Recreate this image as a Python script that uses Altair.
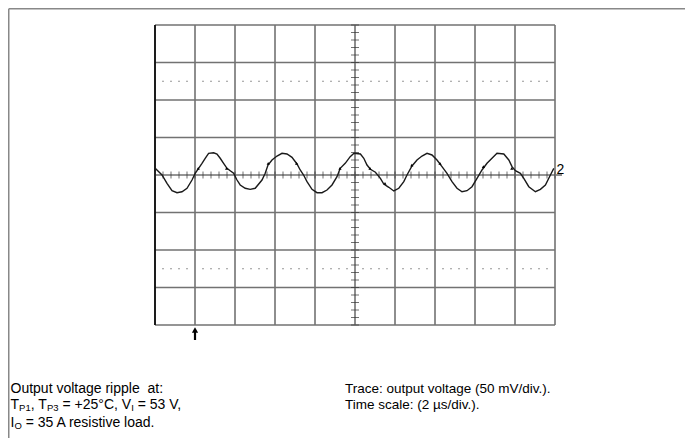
import altair as alt
import pandas as pd

# ---- data (time in µs, voltage in mV) ----
trace_t = [-9.99, -9.65, -9.4, -9.15, -8.9, -8.65, -8.4, -8.15, -7.99, -7.82,
           -7.65, -7.49, -7.32, -7.07, -6.9, -6.74, -6.57, -6.4, -6.24, -6.07,
           -5.9, -5.74, -5.49, -5.24, -4.99, -4.65, -4.49, -4.35, -4.15, -3.9,
           -3.65, -3.4, -3.15, -2.9, -2.74, -2.57, -2.4, -2.15, -1.9, -1.65,
           -1.4, -1.15, -0.9, -0.74, -0.49, -0.24, -0.05, 0.27, 0.44, 0.6,
           0.77, 1.02, 1.27, 1.44, 1.69, 1.94, 2.19, 2.44, 2.6, 2.85,
           3.1, 3.35, 3.6, 3.85, 4.1, 4.35, 4.6, 4.85, 5.1, 5.35,
           5.6, 5.85, 6.1, 6.35, 6.6, 6.85, 7.1, 7.44, 7.69, 7.85,
           8.02, 8.27, 8.44, 8.69, 9.02, 9.27, 9.52, 9.77, 9.94]
trace_v = [8.9, 0, -11.1, -20.9, -23.6, -22.3, -17.7, -6.7, 2.3, 8.9,
           15.6, 22.3, 28.9, 29.7, 28, 22.3, 15.6, 8.9, 5.7, 2.3,
           -6.7, -13.3, -17.7, -19.1, -17.7, -6.7, 2.3, 13.3, 20, 25.3,
           28.9, 28, 23.6, 14.7, 6.7, 0, -8.9, -19.1, -23.6, -23.6,
           -20, -13.3, -2.3, 8.9, 15.6, 24.4, 28.9, 28, 22.3, 13.3,
           7.6, 3.7, -4.4, -12, -16.4, -21.3, -17.7, -8.9, 0, 12,
           20, 25.3, 28.9, 26.7, 20, 11.1, 2.3, -8.9, -17.7, -22.3,
           -20.9, -15.6, -4.4, 6.7, 15.6, 22.3, 28.9, 28, 20, 11.1,
           5.7, 2.3, -4.4, -15.6, -22.3, -19.1, -13.3, 0, 8.9]

# small sample markers visible on the trace
marker_t = [-7.84, -6.42, -4.34, -2.92, -0.75, 0.75, 1.5, 2.84, 4.25, 6.42, 7.84]
marker_v = [8.9, 8.9, 15.6, 15.6, 8.9, 8.9, -11.1, 13.3, 15.6, 11.1, 8.9]

# graticule: 10 x 8 divisions, 2 µs/div and 50 mV/div
grid_t = [-10, -8, -6, -4, -2, 0, 2, 4, 6, 8, 10]
grid_v = [-200, -150, -100, -50, 0, 50, 100, 150, 200]
dotted_v = [-125, 125]
trigger_t = [-8]
channel_label = ["2"]

minor_t = [round(-10 + 0.4 * i, 2) for i in range(51)]
minor_v = [round(-200 + 10 * i, 1) for i in range(41)]
dot_t = [t for t in minor_t if abs(t / 2 - round(t / 2)) > 1e-6]

FONT = "Liberation Sans"
GRID = "#727272"
INK = "#1a1a1a"
NBSP = "\u00a0"

xs = alt.Scale(domain=[-10, 10], nice=False, zero=False)
ys = alt.Scale(domain=[-200, 200], nice=False, zero=False)


def X(f):
    return alt.X(f, type="quantitative", scale=xs, axis=None)


def Y(f):
    return alt.Y(f, type="quantitative", scale=ys, axis=None)


vgrid = alt.Chart(pd.DataFrame({"t": grid_t})).mark_rule(
    color=GRID, strokeWidth=1.6).encode(x=X("t"))
hgrid = alt.Chart(pd.DataFrame({"v": grid_v})).mark_rule(
    color=GRID, strokeWidth=1.6).encode(y=Y("v"))
left_edge = alt.Chart(pd.DataFrame({"t": grid_t[:1]})).mark_rule(
    color="black", strokeWidth=1.6).encode(x=X("t"))

dots_df = pd.DataFrame([(t, v) for v in dotted_v for t in dot_t], columns=["t", "v"])
dots = alt.Chart(dots_df).mark_square(size=1.5, color="#555555", opacity=1).encode(
    x=X("t"), y=Y("v"))

htick = alt.Chart(pd.DataFrame({"t": minor_t, "v": [0] * len(minor_t)})).mark_tick(
    orient="vertical", size=7, thickness=1, color="#333333").encode(x=X("t"), y=Y("v"))
vtick = alt.Chart(pd.DataFrame({"t": [0] * len(minor_v), "v": minor_v})).mark_tick(
    orient="horizontal", size=8, thickness=1, color="#333333").encode(x=X("t"), y=Y("v"))

center_ext = alt.Chart(pd.DataFrame({"v": [0]})).mark_rule(
    color=GRID, strokeWidth=1.6).encode(x=alt.value(400), x2=alt.value(407), y=Y("v"))

trace = alt.Chart(pd.DataFrame({"t": trace_t, "v": trace_v})).mark_line(
    color=INK, strokeWidth=1.4).encode(x=X("t"), y=Y("v"), order="t:Q")

markers = alt.Chart(pd.DataFrame({"t": marker_t, "v": marker_v})).mark_point(
    shape="triangle-up", filled=True, size=10, color="#000000", opacity=1).encode(
    x=X("t"), y=Y("v"))

label2 = alt.Chart(pd.DataFrame({"v": [0], "s": channel_label})).mark_text(
    align="left", baseline="alphabetic", dx=1.5, dy=-1, fontSize=14, font=FONT,
    color="black").encode(x=alt.value(400), y=Y("v"), text="s:N")

trig_df = pd.DataFrame({"t": trigger_t})
trig_shaft = alt.Chart(trig_df).mark_rule(color="black", strokeWidth=2.2).encode(
    x=X("t"), y=alt.value(305), y2=alt.value(315))
trig_head = alt.Chart(trig_df).mark_point(
    shape="triangle-up", filled=True, size=38, color="black", opacity=1).encode(
    x=X("t"), y=alt.value(305))

one = pd.DataFrame({"a": [0]})
border_top = alt.Chart(one).mark_rule(color="#888888", strokeWidth=1.5).encode(
    x=alt.value(-146.25), x2=alt.value(530), y=alt.value(-16.25))
border_left = alt.Chart(one).mark_rule(color="#888888", strokeWidth=1.5).encode(
    x=alt.value(-146.25), y=alt.value(-16.25), y2=alt.value(413))

# Arial / Liberation Sans advance widths (1/1000 em)
AW = {" ": 278, NBSP: 278, ",": 278, "=": 584, "+": 584, "°": 400, ".": 278,
      "A": 667, "C": 722, "I": 278, "O": 778, "P": 667, "T": 611, "V": 667}
for d in "0123456789":
    AW[d] = 556


def width(s, size):
    return sum(AW.get(c, 556) for c in s) * size / 1000.0


def txt(s, x, y, size):
    return alt.Chart(one).mark_text(
        text=s, align="left", baseline="alphabetic", fontSize=size, font=FONT,
        color="black").encode(x=alt.value(x), y=alt.value(y))


MAIN, SUB, SUBDY = 14, 9.5, 2
RIGHT = 13.5
LX = -144.5
RX = 190
B1, B2, B3 = 368, 384, 402
SPACE = width(" ", MAIN)


def run(pieces, x, y):
    # pieces: (text, is_subscript, leading_space)
    out = []
    for s, sub, lead in pieces:
        size = SUB if sub else MAIN
        if lead:
            x += SPACE
        out.append(txt(s, x, y + (SUBDY if sub else 0), size))
        x += width(s, size)
    return out


texts = [txt("Output voltage ripple" + NBSP + " at:", LX, B1, MAIN)]
texts += run([("T", False, False), ("P1", True, False), (", T", False, False),
              ("P3", True, False), ("= +25°C, V", False, True), ("I", True, False),
              ("= 53 V,", False, True)], LX, B2)
texts += run([("I", False, False), ("O", True, False),
              ("= 35 A resistive load.", False, True)], LX, B3)
texts += [txt("Trace: output voltage (50 mV/div.).", RX, B1, RIGHT),
          txt("Time scale: (2 µs/div.).", RX, B2, RIGHT)]

chart = alt.layer(
    vgrid, hgrid, left_edge, dots, htick, vtick, center_ext, trace, markers,
    label2, trig_shaft, trig_head, border_top, border_left, *texts
).properties(
    width=400, height=300,
    padding={"left": 147, "top": 17, "right": 130, "bottom": 113},
    autosize=alt.AutoSizeParams(type="none"),
    background="white",
).configure_view(stroke=None)

chart.save("out.html", embed_options={"renderer": "svg", "actions": False})
